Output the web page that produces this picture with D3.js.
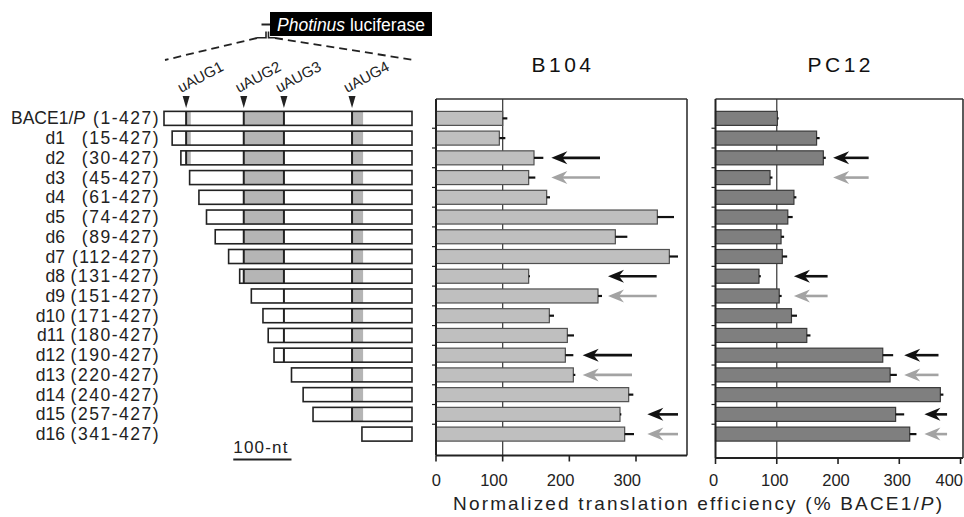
<!DOCTYPE html>
<html><head><meta charset="utf-8">
<script src="https://cdn.jsdelivr.net/npm/d3@7"></script>
<style>
body{margin:0;background:#fff;}
svg{display:block;font-family:"Liberation Sans",Arial,sans-serif;}
</style></head>
<body><svg id="c" width="964" height="517"></svg>
<script>
// ---------------- data ----------------
const rows = ["BACE1/P","d1","d2","d3","d4","d5","d6","d7","d8","d9","d10","d11","d12","d13","d14","d15","d16"];
const rangeLabels = ["(1-427)","(15-427)","(30-427)","(45-427)","(61-427)","(74-427)","(89-427)","(112-427)","(131-427)","(151-427)","(171-427)","(180-427)","(190-427)","(220-427)","(240-427)","(257-427)","(341-427)"];
const starts = [1,15,30,45,61,74,89,112,131,151,171,180,190,220,240,257,341];
const constructEnd = 427;
const uAUGLabels = ["uAUG1","uAUG2","uAUG3","uAUG4"];
const uAUGPos = [39,138,207,324];
const uORFEnd = [47,207,207,343];
const b104 = [100,95,147,139,166,332,269,350,139,243,170,197,194,206,289,276,283];
const b104Err = [7,9,14,10,5,25,18,13,2,6,7,10,12,3,7,2,14];
const pc12 = [101,165,176,89,128,118,107,109,71,104,124,149,273,285,367,294,317];
const pc12Err = [2,5,4,4,4,8,5,8,3,4,9,6,17,11,5,14,11];
const xTicksB104 = [0,100,200,300];
const xTicksPC12 = [0,100,200,300,400];
const arrowRows = ["d2","d3","d8","d9","d12","d13","d15","d16"];
const arrowShade = ["black","grey","black","grey","black","grey","black","grey"];
const b104ArrowHead = [173,173,258,258,220,220,317,317];
const b104ArrowTail = [246,246,331,331,294,294,363,363];
const pc12ArrowHead = [192,192,128,128,308,308,341,341];
const pc12ArrowTail = [250,250,183,183,364,364,378,378];

// ---------------- layout ----------------
const svg = d3.select("#c");
const ink = "#222";
const y = d3.scaleBand().domain(rows).range([100,455]).paddingInner(0.29).paddingOuter(0.64).align(0.45);
const bw = y.bandwidth();
const yc = r => y(r) + bw/2;

// -------- construct diagram --------
const xNt = d3.scaleLinear().domain([1,427]).range([164,412]);
const diag = svg.append("g");
rows.forEach((r,i)=>{
  const s = starts[i];
  const g = diag.append("g");
  uAUGPos.forEach((u,k)=>{
    if (s <= u && uORFEnd[k] > u) {
      g.append("rect").attr("x", xNt(u)).attr("y", y(r)).attr("width", xNt(uORFEnd[k]) - xNt(u)).attr("height", bw).attr("fill","#b5b5b5");
    }
  });
  g.append("rect").attr("x", xNt(s)).attr("y", y(r)).attr("width", xNt(constructEnd)-xNt(s)).attr("height", bw)
    .attr("fill","none").attr("stroke", ink).attr("stroke-width",1.6);
  uAUGPos.forEach((u)=>{
    if (s <= u) g.append("line").attr("x1", xNt(u)).attr("x2", xNt(u)).attr("y1", y(r)).attr("y2", y(r)+bw).attr("stroke", ink).attr("stroke-width",2);
  });
});
uAUGPos.forEach((u,k)=>{
  const x = xNt(u);
  diag.append("path").attr("d",`M${x-3.5},96 L${x+3.5},96 L${x},108 Z`).attr("fill", ink);
  diag.append("text").attr("transform",`translate(${x-5},93) rotate(-28)`).attr("font-size",15).attr("fill",ink).text(uAUGLabels[k]);
});
rows.forEach((r,i)=>{
  const t = diag.append("text").attr("y", yc(r)+6).attr("font-size",17.5).attr("fill",ink);
  if (i===0) {
    t.attr("x",11).attr("text-anchor","start");
    t.append("tspan").text("BACE1/");
    t.append("tspan").attr("font-style","italic").text("P");
  } else {
    t.attr("x",65).attr("text-anchor","end").text(r);
  }
  diag.append("text").attr("x",160).attr("y", yc(r)+6).attr("font-size",17.5).attr("fill",ink)
    .attr("text-anchor","end").attr("letter-spacing",1.5).text(rangeLabels[i]);
});
// scale bar
diag.append("text").attr("x", xNt(120)).attr("y",453).attr("font-size",17).attr("fill",ink).attr("letter-spacing",1.2).text("100-nt");
diag.append("line").attr("x1", xNt(120)).attr("x2", xNt(220)).attr("y1",459.5).attr("y2",459.5).attr("stroke",ink).attr("stroke-width",2);

// Photinus luciferase box
svg.append("rect").attr("x",270).attr("y",12).attr("width",162).attr("height",24).attr("fill","#000");
const pt = svg.append("text").attr("x",277).attr("y",30.5).attr("font-size",17.5).attr("fill","#fff");
pt.append("tspan").attr("font-style","italic").text("Photinus");
pt.append("tspan").text(" luciferase");
svg.append("line").attr("x1",261.5).attr("x2",270).attr("y1",24.5).attr("y2",24.5).attr("stroke",ink).attr("stroke-width",2);
svg.append("path").attr("d","M257,37.7 H266 V31.5 M268.5,31.5 V37.7 H275").attr("fill","none").attr("stroke",ink).attr("stroke-width",1.6);
svg.append("line").attr("x1",257).attr("y1",38).attr("x2",165).attr("y2",60).attr("stroke",ink).attr("stroke-width",1.8).attr("stroke-dasharray","8,5");
svg.append("line").attr("x1",275).attr("y1",38).attr("x2",414).attr("y2",60).attr("stroke",ink).attr("stroke-width",1.8).attr("stroke-dasharray","8,5");

// -------- bar panels --------
function panel(opt){
  const x = d3.scaleLinear().domain([0,opt.max]).range([opt.x0,opt.x1]);
  const g = svg.append("g");
  const top = 99, bottom = opt.bottom;
  g.append("line").attr("x1",x(100)).attr("x2",x(100)).attr("y1",top).attr("y2",bottom).attr("stroke","#444").attr("stroke-width",1.3);
  g.selectAll("rect.bar").data(opt.vals).join("rect").attr("class","bar")
    .attr("x", x(0)).attr("y",(d,i)=>y(rows[i])).attr("width", d=>x(d)-x(0)).attr("height", bw)
    .attr("fill",opt.fill).attr("stroke",opt.stroke).attr("stroke-width",1.2);
  g.selectAll("line.err").data(opt.vals).join("line").attr("class","err")
    .attr("x1", d=>x(d)).attr("x2",(d,i)=>x(d+opt.errs[i])).attr("y1",(d,i)=>yc(rows[i])).attr("y2",(d,i)=>yc(rows[i]))
    .attr("stroke","#111").attr("stroke-width",2.2);
  g.append("line").attr("x1",opt.x0).attr("x2",opt.x1).attr("y1",top).attr("y2",top).attr("stroke","#333").attr("stroke-width",1.6);
  g.append("line").attr("x1",opt.x1).attr("x2",opt.x1).attr("y1",top).attr("y2",bottom).attr("stroke","#333").attr("stroke-width",1.6);
  g.append("line").attr("x1",opt.x0).attr("x2",opt.x0).attr("y1",top).attr("y2",bottom).attr("stroke","#222").attr("stroke-width",2);
  g.append("line").attr("x1",opt.x0).attr("x2",opt.x1).attr("y1",bottom).attr("y2",bottom).attr("stroke","#222").attr("stroke-width",2);
  rows.slice(1).forEach(r=>{
    const yy = y(r) - (y.step()-bw)/2;
    g.append("line").attr("x1",opt.x0-4).attr("x2",opt.x0).attr("y1",yy).attr("y2",yy).attr("stroke","#222").attr("stroke-width",1.2);
  });
  opt.ticks.forEach((t,j)=>{
    g.append("line").attr("x1",x(t)).attr("x2",x(t)).attr("y1",bottom).attr("y2",bottom+6).attr("stroke","#222").attr("stroke-width",1.6);
    const last = opt.clampLast && j===opt.ticks.length-1;
    g.append("text").attr("x", last ? 963 : x(t)+opt.labDx).attr("y",486)
      .attr("text-anchor", last ? "end" : opt.labAnchor).attr("font-size",16.5).attr("fill",ink).text(t);
  });
  arrowRows.forEach((r,i)=>{
    const col = arrowShade[i]==="black" ? "#111" : "#a3a3a3";
    const h = x(opt.head[i]), tl = x(opt.tail[i]), yy = yc(r);
    g.append("line").attr("x1",h+8).attr("x2",tl).attr("y1",yy).attr("y2",yy).attr("stroke",col).attr("stroke-width",2.6);
    g.append("path").attr("d",`M${h},${yy} L${h+16},${yy-6.5} L${h+11},${yy} L${h+16},${yy+6.5} Z`).attr("fill",col);
  });
  svg.append("text").attr("x",(opt.x0+opt.x1)/2+1.5).attr("y",72).attr("text-anchor","middle").attr("font-size",21)
    .attr("letter-spacing",3.5).attr("fill","#111").text(opt.title);
}
panel({title:"B104", x0:436, x1:687, max:376.5, bottom:455.5, vals:b104, errs:b104Err, fill:"#bfbfbf", stroke:"#505050",
  ticks:xTicksB104, labAnchor:"end", labDx:5, head:b104ArrowHead, tail:b104ArrowTail, clampLast:false});
panel({title:"PC12", x0:715.5, x1:963, max:404, bottom:458, vals:pc12, errs:pc12Err, fill:"#7f7f7f", stroke:"#3a3a3a",
  ticks:xTicksPC12, labAnchor:"middle", labDx:-2, head:pc12ArrowHead, tail:pc12ArrowTail, clampLast:true});

const at = svg.append("text").attr("x",453).attr("y",510).attr("font-size",19).attr("fill",ink)
  .attr("textLength",489).attr("lengthAdjust","spacing");
at.append("tspan").text("Normalized translation efficiency (% BACE1/");
at.append("tspan").attr("font-style","italic").text("P");
at.append("tspan").text(")");
</script></body></html>
